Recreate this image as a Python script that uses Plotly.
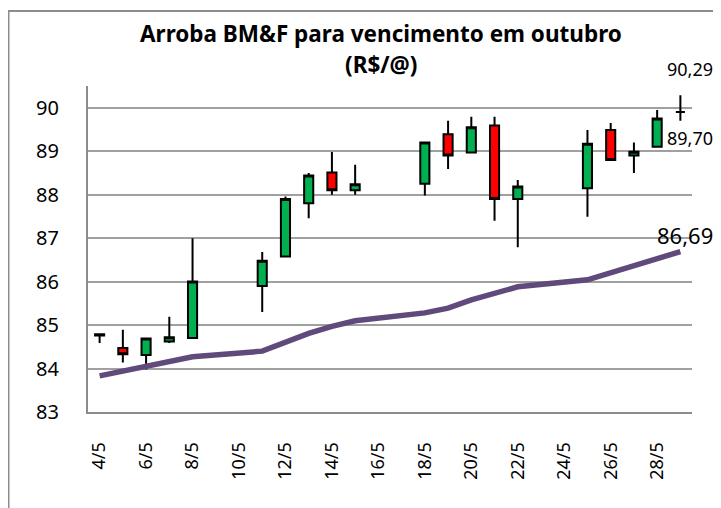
import plotly.graph_objects as go

# all calendar days on the category axis (4/5 .. 29/5)
all_days = [f"{d}/5" for d in range(4, 30)]
tick_labels = [f"{d}/5" for d in range(4, 30, 2)]

# trading days and OHLC values (R$/@)
trade_days = ["4/5", "5/5", "6/5", "7/5", "8/5",
              "11/5", "12/5", "13/5", "14/5", "15/5",
              "18/5", "19/5", "20/5", "21/5", "22/5",
              "25/5", "26/5", "27/5", "28/5", "29/5"]
open_ = [84.76, 84.47, 84.31, 84.62, 84.70,
         85.90, 86.58, 87.80, 88.51, 88.10,
         88.25, 89.39, 88.97, 89.59, 87.90,
         88.15, 89.49, 88.90, 89.10, 89.90]
high = [84.79, 84.89, 84.69, 85.19, 87.00,
        86.68, 87.96, 88.50, 88.98, 88.69,
        89.22, 89.70, 89.79, 89.79, 88.34,
        89.49, 89.65, 89.20, 89.95, 90.29]
low = [84.59, 84.14, 83.98, 84.59, 84.68,
       85.30, 86.57, 87.46, 88.00, 88.00,
       87.98, 88.59, 88.96, 87.40, 86.79,
       87.49, 88.79, 88.50, 89.10, 89.70]
close = [84.79, 84.33, 84.69, 84.72, 86.00,
         86.48, 87.90, 88.44, 88.10, 88.24,
         89.20, 88.90, 89.55, 87.90, 88.19,
         89.17, 88.80, 88.99, 89.75, 89.90]

# moving average line
ma = [83.83, 83.94, 84.06, 84.15, 84.27,
      84.40, 84.61, 84.81, 84.97, 85.10,
      85.28, 85.39, 85.58, 85.74, 85.88,
      86.04, 86.20, 86.36, 86.52, 86.69]

title_lines = ["Arroba BM&F para vencimento em outubro", "(R$/@)"]

# page body has an 8px margin: the figure occupies (8..721, 8..508)
OFF = 8
W, H = 721 - OFF, 508 - OFF
L, R, T, B = 88.4 - OFF, 29.4, 86 - OFF, 96
pw, ph = W - L - R, H - T - B

def px(x):  # x in screenshot pixels -> paper
    return (x - OFF - L) / pw

def py(y):  # y in screenshot pixels -> paper
    return (H - B - (y - OFF)) / ph

fig = go.Figure()
fig.add_trace(go.Scatter(
    x=trade_days, y=ma, mode="lines",
    line=dict(color="#604A7B", width=5.5),
    hoverinfo="skip", showlegend=False))
fig.add_trace(go.Candlestick(
    x=trade_days, open=open_, high=high, low=low, close=close,
    increasing=dict(fillcolor="#00B050", line=dict(color="#000000", width=2)),
    decreasing=dict(fillcolor="#FF0000", line=dict(color="#000000", width=2)),
    whiskerwidth=0, showlegend=False))

font_family = "Noto Sans, Open Sans, sans-serif"

def ann(text, x, y, size, bold=False, xanchor="center"):
    return dict(text=f"<b>{text}</b>" if bold else text,
                x=px(x), y=py(y), xref="paper", yref="paper",
                xanchor=xanchor, yanchor="middle", showarrow=False,
                font=dict(size=size, color="#000000"))

fig.update_layout(
    width=W, height=H,
    margin=dict(l=L, r=R, t=T, b=B, pad=0, autoexpand=False),
    paper_bgcolor="white", plot_bgcolor="white",
    showlegend=False,
    boxgap=0.44,
    font=dict(family=font_family, color="#000000"),
    xaxis=dict(
        type="category", categoryorder="array", categoryarray=all_days,
        range=[-0.5, len(all_days) - 0.5],
        tickmode="array", tickvals=tick_labels, ticktext=tick_labels,
        tickangle=-90, tickfont=dict(size=18),
        ticklabelstandoff=21,
        showgrid=False, showline=True, linecolor="#8C8C8C", linewidth=2,
        ticks="", rangeslider=dict(visible=False), fixedrange=True),
    yaxis=dict(
        range=[83, 90.5], tickmode="array", tickvals=list(range(83, 91)),
        ticktext=[str(v) for v in range(83, 91)],
        tickfont=dict(size=20), ticklabelstandoff=23,
        showgrid=True, gridcolor="#A0A0A0", gridwidth=2,
        showline=True, linecolor="#8C8C8C", linewidth=2,
        zeroline=False, ticks="", fixedrange=True),
    annotations=[
        ann(title_lines[0], 381, 33, 22.5, bold=True),
        ann(title_lines[1], 381, 65, 22.5, bold=True),
        ann("90,29", 715, 69, 18, xanchor="right"),
        ann("89,70", 715, 138, 18, xanchor="right"),
        ann("86,69", 715, 235, 22, xanchor="right"),
    ],
    shapes=[
        dict(type="rect", xref="paper", yref="paper",
             x0=px(9), x1=px(760), y0=py(560), y1=py(11),
             line=dict(color="#8C8C8C", width=2), layer="below"),
    ],
)

fig.write_html("out.html")
